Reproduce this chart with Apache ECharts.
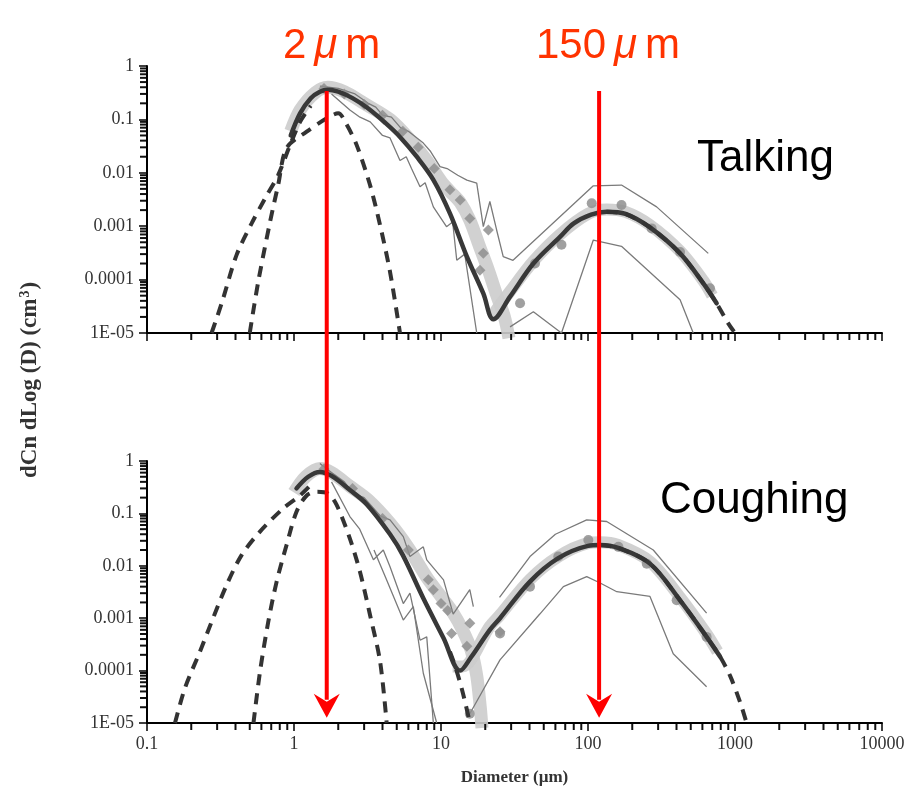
<!DOCTYPE html>
<html><head><meta charset="utf-8">
<script src="https://cdn.jsdelivr.net/npm/echarts@6/dist/echarts.min.js"></script>
<style>html,body{margin:0;padding:0;background:#fff}#main{width:904px;height:796px}</style>
</head><body><div id="main"></div>
<script>
// ---------- tick labels ----------
const xTickLabels = ['0.1','1','10','100','1000','10000'];
const yTickLabels = ['1E-05','0.0001','0.001','0.01','0.1','1'];

// ---------- Talking (top panel) ----------
const talkLMode = [[0.275,1e-5],[0.322,3.6e-5],[0.407,2.9e-4],[0.515,1.13e-3],[0.635,3.3e-3],[0.78,9.1e-3],[0.94,0.033],[1.1,0.09],[1.3,0.18]];
const talkBMode = [[0.5,1e-5],[0.571,9.1e-5],[0.687,1.2e-3],[0.78,5.9e-3],[0.89,0.029],[1.22,0.059],[1.67,0.105],[2.0,0.13],[2.28,0.08],[2.67,0.033],[3.29,5.9e-3],[3.85,1.05e-3],[4.5,1.4e-4],[5.26,1e-5]];
const talkSolid = [[0.95,0.05],[1.1,0.13],[1.3,0.25],[1.5,0.33],[1.7,0.36],[2.0,0.33],[2.5,0.25],[3.2,0.16],[4.2,0.085],[5.26,0.047],[6.84,0.02],[8.87,7.4e-3],[11.5,1.74e-3],[15,2.7e-4],[19.4,5.5e-5],[22.7,1.8e-5],[29.5,4.8e-5],[42.5,2.0e-4],[64.5,6.3e-4],[80,1.13e-3],[105,1.65e-3],[134,1.87e-3],[180,1.7e-3],[264,9.5e-4],[423,3.1e-4],[609,8.5e-5],[750,3.6e-5]];
const talkODash = [[134,1.87e-3],[180,1.7e-3],[264,9.5e-4],[423,3.1e-4],[609,8.5e-5],[750,3.6e-5],[895,1.55e-5],[1000,1e-5]];
const talkBand = [[0.95,0.06],[1.1,0.15],[1.4,0.32],[1.7,0.4],[2.2,0.33],[3,0.2],[4.5,0.1],[6,0.045],[8,0.017],[10,7e-3],[11.5,4.5e-3],[13.5,2.8e-3],[15.7,1.3e-3],[18.4,4e-4],[21,1.5e-4],[24,5e-5],[27,2e-5],[29,8e-6]];
const talkBandO = [[22,2e-5],[29.5,6e-5],[42.5,2.2e-4],[64.5,7e-4],[100,1.7e-3],[134,2.05e-3],[180,1.85e-3],[264,1.05e-3],[423,3.4e-4],[609,9.5e-5],[700,5e-5]];
const talkUpper = [[1.5,0.42],[2,0.38],[2.6,0.3],[3.2,0.2],[3.6,0.17],[4,0.12],[4.6,0.11],[5.3,0.07],[6,0.06],[7.58,0.036],[8.5,0.025],[9.85,0.013],[11,0.012],[13,0.009],[15,7.3e-3],[17.5,6.4e-3],[19.4,9.8e-4],[21.5,2.9e-3],[23.9,8.5e-4],[26.5,2.7e-4],[30.9,2.3e-4],[108.7,5.7e-3],[169,5.9e-3],[293,2.3e-3],[658,3.1e-4]];
const talkLower = [[1.8,0.3],[2.4,0.15],[2.81,0.11],[3.3,0.09],[4.0,0.05],[4.5,0.045],[5.26,0.017],[5.8,0.02],[6.3,0.012],[7.2,5.5e-3],[7.8,6.5e-3],[8.87,2.3e-3],[10.9,9.8e-4],[12,1.2e-3],[12.8,2.3e-4],[14.5,3e-4],[17.5,1e-5]];
const talkLowerO = [[29.5,1.3e-5],[42.5,2.5e-5],[66,1e-5],[108.7,5.5e-4],[169,4.2e-4],[423,4.2e-5],[520,1e-5]];
const talkDiamonds = [[1.6,0.38],[2.2,0.3],[3,0.19],[4,0.12],[5.5,0.06],[7,0.03],[9,0.012],[11.5,4.8e-3],[13.5,3.1e-3],[15.7,1.4e-3],[21,8.5e-4],[19.4,3.1e-4],[18.4,1.5e-4]];
const talkCircles = [[34.5,3.6e-5],[43.6,2e-4],[66,4.5e-4],[106,2.7e-3],[169,2.5e-3],[271,9.1e-4],[423,3.3e-4],[676,6.9e-5]];

// ---------- Coughing (bottom panel) ----------
const coughLMode = [[0.155,1e-5],[0.181,4.6e-5],[0.229,2.3e-4],[0.275,8.5e-4],[0.348,4.3e-3],[0.44,0.016],[0.587,0.045],[0.846,0.125],[1.1,0.22],[1.3,0.35]];
const coughLTail = [[11.5,2.3e-4],[12.5,1.2e-4],[14,4e-5],[15.5,1.2e-5]];
const coughBMode = [[0.53,1e-5],[0.587,9.5e-5],[0.668,8.5e-4],[0.762,5e-3],[0.89,0.025],[1.04,0.108],[1.22,0.22],[1.43,0.26],[1.7,0.24],[1.95,0.145],[2.4,0.033],[2.81,7.7e-3],[3.29,1.15e-3],[3.85,1.5e-4],[4.27,1e-5]];
const coughSolid = [[1.04,0.3],[1.25,0.5],[1.5,0.62],[1.8,0.52],[2.4,0.28],[3.12,0.15],[4.5,0.04],[5.5,0.016],[7.58,2.4e-3],[10.4,4.2e-4],[13.5,1.0e-4],[16,1.8e-4],[21.5,6e-4],[25.2,1.0e-3],[40.3,5e-3],[62.8,0.014],[100,0.024],[121,0.025],[160,0.022],[264,0.011],[423,2.2e-3],[641,4.4e-4],[791,1.85e-4]];
const coughODash = [[121,0.025],[160,0.022],[264,0.011],[423,2.2e-3],[641,4.4e-4],[791,1.85e-4],[925,8e-5],[1083,2.5e-5],[1200,1e-5]];
const coughBand = [[1.0,0.25],[1.2,0.5],[1.5,0.72],[1.8,0.6],[2.4,0.33],[3.2,0.18],[4.5,0.065],[6,0.022],[8,6e-3],[10,2.6e-3],[12,1.3e-3],[14,6e-4],[16,2.5e-4],[17.5,8e-5],[18.5,2e-5],[19,8e-6]];
const coughBandO = [[12,1.2e-4],[14,1.2e-4],[21.5,7e-4],[25.2,1.15e-3],[40.3,5.5e-3],[62.8,0.015],[100,0.027],[121,0.028],[160,0.025],[264,0.012],[423,2.5e-3],[641,5e-4],[760,2.3e-4]];
const coughUpper = [[1.5,0.9],[1.8,0.6],[2.2,0.4],[2.53,0.24],[3,0.2],[3.85,0.09],[4.5,0.075],[5.54,0.036],[6.15,0.015],[7.58,0.023],[8.0,0.013],[10.4,5.4e-3],[12.1,1.2e-3],[15.7,3.5e-3],[16.6,1.66e-3]];
const coughLower = [[1.8,0.4],[2.4,0.087],[2.8,0.05],[3.47,0.013],[4.05,0.02],[4.5,9.6e-3],[5.54,1.9e-3],[6.15,3e-3],[7.2,3.8e-4],[8.0,4.4e-4],[8.87,1e-5]];
const coughLower2 = [[3.5,0.02],[4.2,6e-3],[5.54,9.2e-4],[6.48,1.66e-3],[7.58,8.9e-5],[9.35,1e-5]];
const coughUpperO = [[25,2.5e-3],[40.3,0.015],[60,0.04],[98,0.075],[134,0.07],[278,0.02],[641,1.25e-3]];
const coughLowerO = [[15.7,1.5e-5],[25.2,1.6e-4],[47,1.2e-3],[68,4e-3],[98,6.2e-3],[121,4.7e-3],[157,3.2e-3],[264,2.6e-3],[380,2.1e-4],[641,4.9e-5]];
const coughDiamonds = [[1.6,0.7],[2.5,0.3],[4,0.08],[6,0.02],[8.2,5.4e-3],[8.87,3.5e-3],[10,1.9e-3],[11.1,1.4e-3],[15.7,8e-4],[11.8,5.1e-4],[15,2.9e-4],[25.2,5.5e-4]];
const coughCircles = [[15.7,1.5e-5],[25.2,5.1e-4],[40.3,4e-3],[62.8,0.015],[100.5,0.031],[161,0.023],[251,0.011],[401,2.2e-3],[641,4.4e-4]];

// ---------- annotations ----------
const redLineX = [1.67, 119];
const redLabels = ['2', '150'];
const redTopValue = 0.34;      // top panel
const redTipValue = 1.26e-5;   // bottom panel
const panelTitles = ['Talking', 'Coughing'];

// ---------- log-axis minor tick positions (2..9 x 10^k) ----------
const xMinorTicks = [], yMinorTicks = [];
for (let k = -1; k <= 3; k++) for (let m = 2; m <= 9; m++) xMinorTicks.push([m * Math.pow(10, k), 1e-5]);
for (let k = -5; k <= -1; k++) for (let m = 2; m <= 9; m++) yMinorTicks.push([0.1, m * Math.pow(10, k)]);

// ---------- chart ----------
const chart = echarts.init(document.getElementById('main'), null, {renderer: 'canvas'});
const serif = '"Liberation Serif","DejaVu Serif",serif';
const sans = '"Liberation Sans",Arial,sans-serif';

function xAxisDef(g, showLabel) {
  return {
    type: 'log', logBase: 10, min: 0.1, max: 10000, gridIndex: g, splitNumber: 5,
    axisLine: {show: true, onZero: false, lineStyle: {color: '#000', width: 2}},
    axisTick: {show: true, inside: false, length: 8, lineStyle: {color: '#000', width: 1.5}},
    splitLine: {show: false},
    axisLabel: {show: showLabel, margin: 12, fontFamily: serif, fontSize: 18, color: '#333',
      formatter: v => xTickLabels[Math.round(Math.log10(v)) + 1]},
    name: showLabel ? 'Diameter (µm)' : '', nameLocation: 'middle', nameGap: 46,
    nameTextStyle: {fontFamily: serif, fontWeight: 'bold', fontSize: 17, color: '#333'}
  };
}
function yAxisDef(g) {
  return {
    type: 'log', logBase: 10, min: 1e-5, max: 1, gridIndex: g, splitNumber: 5,
    axisLine: {show: true, onZero: false, lineStyle: {color: '#000', width: 2}},
    axisTick: {show: true, inside: false, length: 8, lineStyle: {color: '#000', width: 1.5}},
    splitLine: {show: false},
    axisLabel: {margin: 13, fontFamily: serif, fontSize: 18, color: '#333',
      formatter: v => yTickLabels[Math.round(Math.log10(v)) + 5]}
  };
}
// minor ticks drawn as small rect symbols placed by the axes' own scales
function minorTickSeries(data, g, isX) {
  return {
    type: 'scatter', xAxisIndex: g, yAxisIndex: g, data: data, symbol: 'rect',
    symbolSize: isX ? [2, 6] : [6, 2], symbolOffset: isX ? [0, 4] : [-4, 0],
    itemStyle: {color: '#111', opacity: 1, borderWidth: 0}, z: 30, silent: true, clip: false,
    emphasis: {disabled: true}, large: false
  };
}
function ln(data, g, color, width, z, extra) {
  return Object.assign({
    type: 'line', xAxisIndex: g, yAxisIndex: g, data: data, symbol: 'none', showSymbol: false,
    lineStyle: {color: color, width: width}, z: z, silent: true, clip: true
  }, extra || {});
}
function dash(data, g, z) {
  return ln(data, g, '#333', 4, z, {smooth: 0.3, lineStyle: {color: '#333', width: 4, type: [11, 8], cap: 'butt'}});
}
function sc(data, g, symbol, size) {
  return {type: 'scatter', xAxisIndex: g, yAxisIndex: g, data: data, symbol: symbol, symbolSize: size,
    itemStyle: {color: '#8f8f8f', opacity: 0.85}, z: 4, silent: true, clip: true};
}
const bandStyle = (d, g, w) => ln(d, g, '#cccccc', w, 1, {smooth: 0.3, lineStyle: {color: '#cccccc', width: w, opacity: 0.9, cap: 'butt', join: 'round'}});
const thin = (d, g) => ln(d, g, '#7a7a7a', 1.3, 3);
const solid = (d, g) => ln(d, g, '#383838', 4.5, 5, {smooth: 0.35, lineStyle: {color: '#383838', width: 4.5, cap: 'round'}});

const series = [
  bandStyle(talkBand, 0, 13), bandStyle(talkBandO, 0, 12),
  thin(talkUpper, 0), thin(talkLower, 0), thin(talkLowerO, 0),
  sc(talkDiamonds, 0, 'diamond', 11), sc(talkCircles, 0, 'circle', 10),
  solid(talkSolid, 0),
  dash(talkLMode, 0, 6), dash(talkBMode, 0, 6), dash(talkODash, 0, 6),

  bandStyle(coughBand, 1, 13), bandStyle(coughBandO, 1, 12),
  thin(coughUpper, 1), thin(coughLower, 1), thin(coughLower2, 1), thin(coughUpperO, 1), thin(coughLowerO, 1),
  sc(coughDiamonds, 1, 'diamond', 11), sc(coughCircles, 1, 'circle', 10),
  solid(coughSolid, 1),
  dash(coughLMode, 1, 6), dash(coughLTail, 1, 6), dash(coughBMode, 1, 6), dash(coughODash, 1, 6),

  minorTickSeries(xMinorTicks, 0, true), minorTickSeries(yMinorTicks, 0, false),
  minorTickSeries(xMinorTicks, 1, true), minorTickSeries(yMinorTicks, 1, false)
];

chart.setOption({
  animation: false,
  backgroundColor: '#fff',
  grid: [
    {left: 147, right: 22, top: 66, height: 267, outerBoundsMode: 'none', containLabel: false},
    {left: 147, right: 22, top: 461, height: 262, outerBoundsMode: 'none', containLabel: false}
  ],
  xAxis: [xAxisDef(0, false), xAxisDef(1, true)],
  yAxis: [yAxisDef(0), yAxisDef(1)],
  series: series
});

// ---------- graphics: red arrows, labels, titles ----------
const graphics = [];
redLineX.forEach((xv, i) => {
  const pTop = chart.convertToPixel({xAxisIndex: 0, yAxisIndex: 0}, [xv, redTopValue]);
  const pTip = chart.convertToPixel({xAxisIndex: 1, yAxisIndex: 1}, [xv, redTipValue]);
  const headH = 24, headW = 13;
  graphics.push({type: 'line', id: 'red' + i, z: 100, shape: {x1: pTop[0], y1: pTop[1], x2: pTip[0], y2: pTip[1] - headH + 6},
    style: {stroke: '#ff0000', lineWidth: 4}});
  graphics.push({type: 'polygon', id: 'head' + i, z: 101, shape: {points: [
    [pTip[0], pTip[1]], [pTip[0] - headW, pTip[1] - headH], [pTip[0], pTip[1] - headH + 8], [pTip[0] + headW, pTip[1] - headH]]},
    style: {fill: '#ff0000'}});
});
function redText(x, label, id) {
  return {type: 'text', id: id, z: 102, x: x, y: 67, style: {
    text: '{n|' + label + '}{u|μ}{n|m}', textVerticalAlign: 'bottom', textAlign: 'left',
    rich: {n: {fontSize: 42, fontFamily: sans, fill: '#ff3300', padding: [0, 4, 0, 4]},
           u: {fontSize: 42, fontFamily: sans, fontStyle: 'italic', fill: '#ff3300', padding: [0, 4, 0, 4]}}}};
}
graphics.push(redText(279, redLabels[0], 'rt0'));
graphics.push(redText(532, redLabels[1], 'rt1'));
graphics.push({type: 'text', id: 't0', z: 102, x: 697, y: 159, style: {text: panelTitles[0], font: '44px ' + sans, fill: '#000', textVerticalAlign: 'middle'}});
graphics.push({type: 'text', id: 't1', z: 102, x: 660, y: 501, style: {text: panelTitles[1], font: '44px ' + sans, fill: '#000', textVerticalAlign: 'middle'}});
graphics.push({type: 'text', id: 'ytitle', z: 102, x: 30, y: 380, rotation: Math.PI / 2, style: {
  text: '{a|dCn dLog (D) (cm}{s|3}{a|)}', textAlign: 'center', textVerticalAlign: 'middle',
  rich: {a: {fontSize: 23, fontFamily: serif, fontWeight: 'bold', fill: '#333', padding: [0, 1, 0, 1]},
         s: {fontSize: 14, fontFamily: serif, fontWeight: 'bold', fill: '#333', verticalAlign: 'top', padding: [0, 0, 10, 0]}}}});
chart.setOption({graphic: {elements: graphics}});
</script>
</body></html>
